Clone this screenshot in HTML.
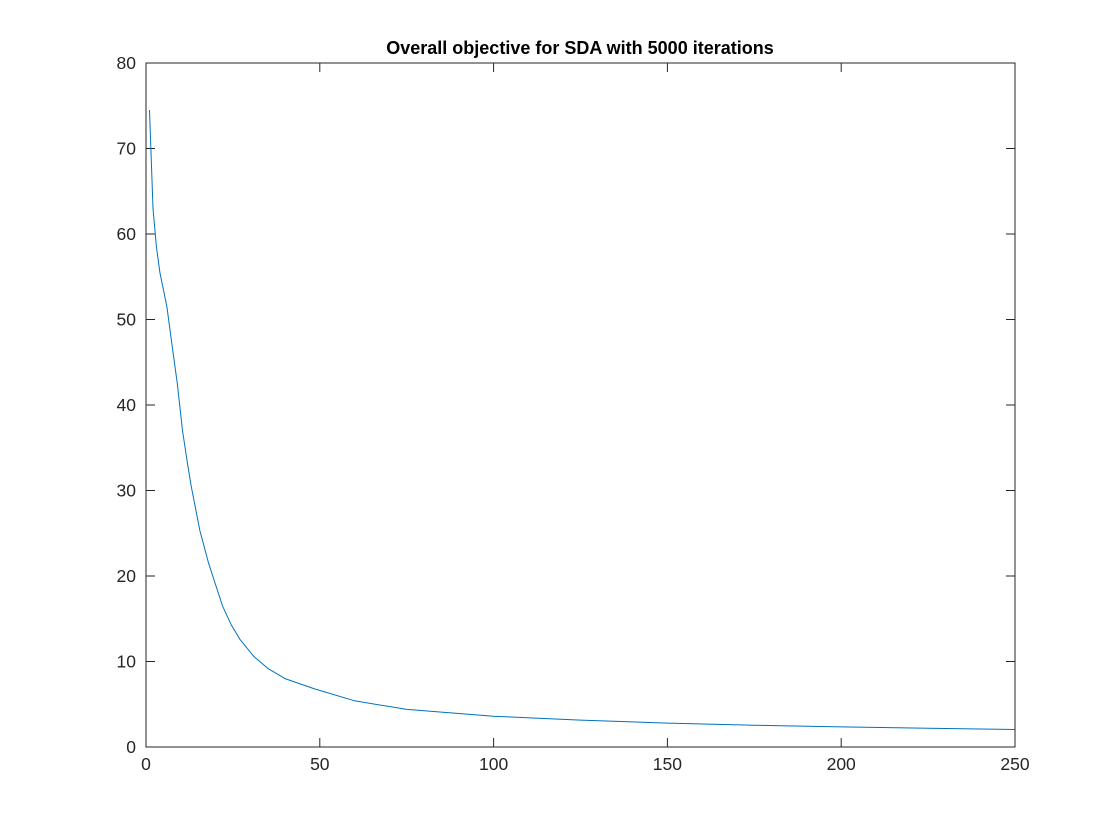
<!DOCTYPE html>
<html><head><meta charset="utf-8"><style>
html,body{margin:0;padding:0;background:#fff;}
svg{display:block;font-family:"Liberation Sans",sans-serif;}
</style></head><body>
<svg id="chart" width="1120" height="840">
<rect x="0" y="0" width="1120" height="840" fill="#fff"/>
<text x="580" y="54" text-anchor="middle" font-size="18" font-weight="bold" fill="#000">Overall objective for SDA with 5000 iterations</text>
<g id="axes"></g>
<polyline id="line" fill="none" stroke="#0072bd" stroke-width="1" stroke-linejoin="round"/>
<rect x="146" y="63" width="869" height="684" fill="none" stroke="#262626" stroke-width="1"/>
</svg>
<script>
const xValues=[1,2,3,4,5,6,7,8,9,10.5,12,13,15.5,18,20,22,24.5,27,31,35,40,48.5,60,75,100,125,150,175,200,225,250];
const yValues=[74.5,63,58.5,55.5,53.5,51.5,48.5,45.5,42.5,37,33,30.5,25.3,21.5,19,16.5,14.3,12.6,10.6,9.2,8.0,6.8,5.4,4.4,3.6,3.15,2.8,2.55,2.35,2.2,2.05];
const xTicks=[0,50,100,150,200,250];
const yTicks=[0,10,20,30,40,50,60,70,80];
const L=146,R=1015,T=63,B=747;
const sx=v=>L+(v/250)*(R-L);
const sy=v=>B-(v/80)*(B-T);
const NS="http://www.w3.org/2000/svg";
const ax=document.getElementById('axes');
function mk(tag,attrs){const e=document.createElementNS(NS,tag);for(const k in attrs)e.setAttribute(k,attrs[k]);return e;}
xTicks.forEach(v=>{
  const x=sx(v);
  const t1=mk('line',{x1:x,x2:x,y1:B,y2:B-9,stroke:'#262626'});
  
  
  ax.appendChild(t1);
  const t2=mk('line',{x1:x,x2:x,y1:T,y2:T+9,stroke:'#262626'});
  
  
  ax.appendChild(t2);
  const tx=mk('text',{x:x,y:B+23,'text-anchor':'middle','font-size':'17.5',fill:'#262626'});
  tx.textContent=v;
  
  
  ax.appendChild(tx);
});
yTicks.forEach(v=>{
  const y=sy(v);
  const t1=mk('line',{x1:L,x2:L+9,y1:y,y2:y,stroke:'#262626'});
  
  
  ax.appendChild(t1);
  const t2=mk('line',{x1:R,x2:R-9,y1:y,y2:y,stroke:'#262626'});
  
  
  ax.appendChild(t2);
  const tx=mk('text',{x:L-10,y:y+6,'text-anchor':'end','font-size':'17.5',fill:'#262626'});
  tx.textContent=v;
  
  
  ax.appendChild(tx);
});
document.getElementById('line').setAttribute('points',xValues.map((x,i)=>sx(x).toFixed(1)+','+sy(yValues[i]).toFixed(1)).join(' '));
</script>
</body></html>
